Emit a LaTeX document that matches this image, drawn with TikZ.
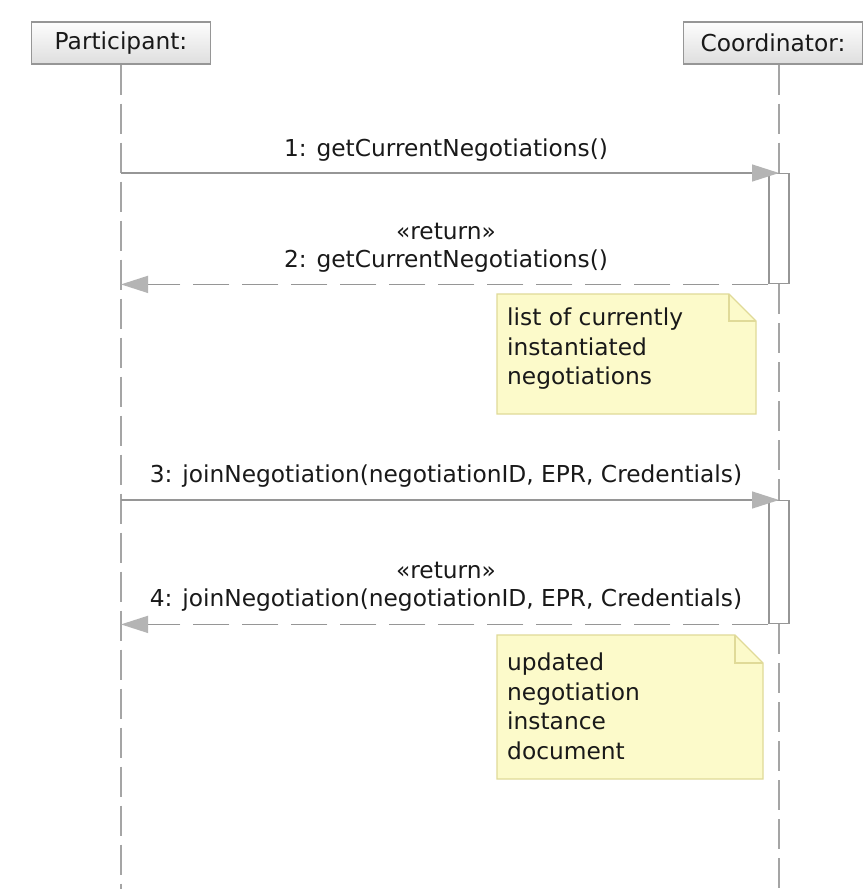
\documentclass[tikz,border=0pt]{standalone}
\usepackage{fontspec}
\setmainfont{DejaVu Sans}
\usetikzlibrary{arrows.meta,positioning,calc}
\definecolor{lnGray}{RGB}{150,150,150}
\definecolor{lifeGray}{RGB}{165,165,165}
\definecolor{tipGray}{RGB}{180,180,180}
\definecolor{headTop}{RGB}{253,253,253}
\definecolor{headBot}{RGB}{222,222,222}
\definecolor{noteFill}{RGB}{252,250,202}
\definecolor{noteEdge}{RGB}{224,218,152}
\definecolor{txtCol}{RGB}{25,25,25}
\tikzset{
  uml/.style={font=\fontsize{23.3}{29.5}\selectfont, text=txtCol},
  headbox/.style={uml, draw=lnGray, line width=1.2pt, top color=headTop, bottom color=headBot,
    minimum width=179pt, minimum height=42pt, inner sep=0pt},
  lifeln/.style={lifeGray, line width=1.4pt, dash pattern=on 30pt off 9pt},
  actbar/.style={draw=lnGray, fill=white, line width=1.4pt, minimum width=20pt, inner sep=0pt},
  callln/.style={-{Triangle[length=27pt,width=17pt,color=tipGray]}, draw=lnGray, line width=1.4pt},
  retln/.style={-{Triangle[length=27pt,width=17pt,color=tipGray]}, draw=lnGray, line width=1.4pt,
    dash pattern=on 36pt off 13pt},
  msgtxt/.style={uml, anchor=base, inner sep=0pt},
  notebox/.style={fill=noteFill, draw=noteEdge, line width=1.2pt, line join=miter},
  notetxt/.style={uml, align=left, anchor=north west, inner sep=0pt},
}

\begin{document}
\begin{tikzpicture}[x=1pt,y=-1pt]
  \fill[white] (0,0) rectangle (865,889);
  \useasboundingbox (0,0) rectangle (865,889);
  % heads
  \node[headbox] (part) at (121,43) {Participant:};
  \node[headbox] (coord) at (773,43) {Coordinator:};
  % activations
  \node[actbar, minimum height=110pt, anchor=north] (bar1) at (779,173) {};
  \node[actbar, minimum height=123pt, anchor=north] (bar2) at (779,500) {};
  \coordinate (pEnd) at (121,889);
  \coordinate (cEnd) at (779,889);
  % lifelines
  \draw[lifeln] (part.south) -- (pEnd);
  \draw[lifeln] (coord.south -| bar1.north) -- (bar1.north);
  \draw[lifeln] (bar1.south) -- (bar2.north);
  \draw[lifeln] (bar2.south) -- (cEnd);
  % getCurrentNegotiations
  \coordinate (p1) at (part.south |- bar1.north);
  \coordinate (p2) at (part.south |- bar1.south);
  \draw[callln] (p1) -- (bar1.north);
  \draw[retln] (bar1.south west) -- (p2);
  \node[msgtxt] (m1) at (446,156) {1: getCurrentNegotiations()};
  \node[msgtxt] (r2) at (446,239) {«return»};
  \node[msgtxt] (m2) at (446,267) {2: getCurrentNegotiations()};
  % note 1
  \draw[notebox] (497,294) -- (729,294) -- (756,321) -- (756,414) -- (497,414) -- cycle;
  \draw[noteEdge, line width=1.2pt] (729,294) -- (729,321) -- (756,321);
  \node[notetxt] (n1) at (507,308) {list of currently\\instantiated\\negotiations};
  % joinNegotiation
  \coordinate (p3) at (part.south |- bar2.north);
  \coordinate (p4) at (part.south |- bar2.south);
  \draw[callln] (p3) -- (bar2.north);
  \draw[retln] (bar2.south west) -- (p4);
  \node[msgtxt] (m3) at (446,482) {3: joinNegotiation(negotiationID, EPR, Credentials)};
  \node[msgtxt] (r4) at (446,578) {«return»};
  \node[msgtxt] (m4) at (446,606) {4: joinNegotiation(negotiationID, EPR, Credentials)};
  % note 2
  \draw[notebox] (497,635) -- (735,635) -- (763,663) -- (763,779) -- (497,779) -- cycle;
  \draw[noteEdge, line width=1.2pt] (735,635) -- (735,663) -- (763,663);
  \node[notetxt] (n2) at (507,653) {updated\\negotiation\\instance\\document};
\end{tikzpicture}
\end{document}
